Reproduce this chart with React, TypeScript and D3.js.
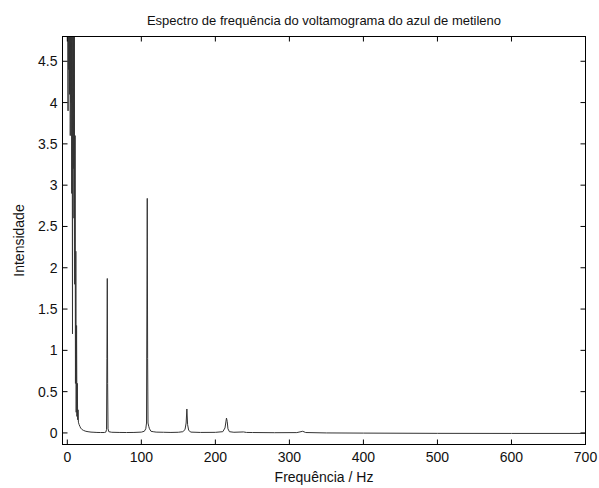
import React from "react";
import * as d3 from "d3";

// Spectrum samples: frequency (Hz) and intensity
const freqHz = [
  0.5, 1, 1.5, 2, 2.5, 3, 3.5, 4, 4.5, 5, 5.5, 6, 6.5, 7, 7.5, 8, 8.5, 9, 9.5, 10,
  10.5, 11, 11.5, 12, 12.5, 13, 13.5, 14, 14.5, 15, 16, 17, 18, 20, 22, 25, 28, 32, 36, 40,
  45, 50, 52, 53, 53.5, 54, 54.5, 55, 56, 60, 70, 80, 90, 100, 104, 106, 107, 107.5, 108, 108.5,
  109, 110, 111, 113, 116, 120, 130, 140, 150, 156, 159, 160.5, 161.5, 162.5, 164, 167, 180, 200, 210, 213,
  215, 216, 217, 219, 225, 238, 242, 250, 280, 310, 318, 322, 350, 400, 500, 600, 700,
];

const intensity = [
  5.6, 3.9, 6.2, 4.4, 5.8, 4.1, 6.0, 3.6, 5.3, 4.0, 5.5, 2.9, 5.1, 1.2, 4.9, 3.2, 5.0, 2.6, 4.9, 1.8,
  3.6, 0.6, 2.2, 0.25, 1.3, 0.2, 0.6, 0.16, 0.28, 0.13, 0.1, 0.08, 0.06, 0.04, 0.03, 0.02, 0.015, 0.01, 0.008, 0.006,
  0.005, 0.005, 0.01, 0.04, 0.9, 1.87, 0.6, 0.05, 0.015, 0.008, 0.006, 0.005, 0.006, 0.01, 0.02, 0.05, 0.12, 1.5, 2.84, 0.9,
  0.12, 0.08, 0.05, 0.02, 0.015, 0.01, 0.008, 0.006, 0.008, 0.015, 0.04, 0.12, 0.29, 0.1, 0.03, 0.01, 0.006, 0.007, 0.015, 0.06,
  0.18, 0.14, 0.05, 0.015, 0.008, 0.012, 0.006, 0.005, 0.003, 0.004, 0.02, 0.005, 0.0, -0.002, -0.005, -0.006, -0.006,
];

const xTicks = [0, 100, 200, 300, 400, 500, 600, 700];
const yTicks = [0, 0.5, 1, 1.5, 2, 2.5, 3, 3.5, 4, 4.5];

const title = "Espectro de frequência do voltamograma do azul de metileno";
const xLabel = "Frequência / Hz";
const yLabel = "Intensidade";

const W = 599;
const H = 488;
const left = 62.5;
const right = 585.5;
const top = 36.5;
const bottom = 444.5;
const font = "'Liberation Sans', Arial, sans-serif";

export default function App() {
  const x = d3.scaleLinear().domain([-6.5, 700]).range([left, right]);
  const y = d3.scaleLinear().domain([-0.14, 4.8]).range([bottom, top]);
  const pts: [number, number][] = freqHz.map((f, i) => [f, intensity[i]]);
  const line = d3
    .line<[number, number]>()
    .x((d) => x(d[0]))
    .y((d) => y(d[1]));
  const tl = 5;

  return (
    <svg
      width={W}
      height={H}
      style={{ position: "absolute", left: 0, top: 0, background: "#fff" }}
      fontFamily={font}
    >
      <defs>
        <clipPath id="plot-area">
          <rect x={left} y={top} width={right - left} height={bottom - top} />
        </clipPath>
      </defs>
      <rect x={0} y={0} width={W} height={H} fill="#fff" />
      <text x={(left + right) / 2} y={25} textAnchor="middle" fontSize={13} fill="#111">
        {title}
      </text>
      <path
        d={line(pts) ?? ""}
        fill="none"
        stroke="#333"
        strokeWidth={1}
        clipPath="url(#plot-area)"
      />
      <rect x={left} y={top} width={right - left} height={bottom - top} fill="none" stroke="#000" strokeWidth={1} />
      {xTicks.map((t) => (
        <g key={`x${t}`}>
          <line x1={x(t)} x2={x(t)} y1={bottom} y2={bottom - tl} stroke="#000" />
          <line x1={x(t)} x2={x(t)} y1={top} y2={top + tl} stroke="#000" />
          <text x={x(t)} y={bottom + 17} textAnchor="middle" fontSize={14} fill="#111">
            {t}
          </text>
        </g>
      ))}
      {yTicks.map((t) => (
        <g key={`y${t}`}>
          <line x1={left} x2={left + tl} y1={y(t)} y2={y(t)} stroke="#000" />
          <line x1={right} x2={right - tl} y1={y(t)} y2={y(t)} stroke="#000" />
          <text x={left - 5} y={y(t) + 5} textAnchor="end" fontSize={14} fill="#111">
            {t}
          </text>
        </g>
      ))}
      <text x={(left + right) / 2} y={482} textAnchor="middle" fontSize={14} fill="#111">
        {xLabel}
      </text>
      <text
        transform={`translate(24, ${(top + bottom) / 2}) rotate(-90)`}
        textAnchor="middle"
        fontSize={14}
        fill="#111"
      >
        {yLabel}
      </text>
    </svg>
  );
}
